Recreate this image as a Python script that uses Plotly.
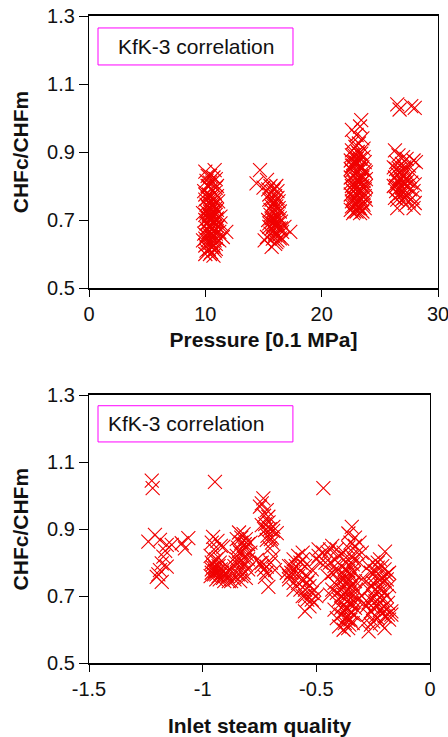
import plotly.graph_objects as go

# ---------------- data ----------------
# Top panel: pressure [0.1 MPa] vs CHFc/CHFm
p_cluster_10 = [(10.0,0.842),(10.8,0.847),(10.4,0.83),(10.9,0.82),(10.1,0.815),(10.6,0.81),(11.0,0.80),(10.2,0.80),
                (10.5,0.79),(9.9,0.785),(10.8,0.78),(10.3,0.775),(10.6,0.765),(10.0,0.76),(11.1,0.755),(10.4,0.75),
                (10.7,0.745),(10.2,0.74),(10.9,0.735),(10.5,0.73),(10.1,0.725),(10.8,0.72),(10.3,0.715),(10.6,0.71),
                (11.0,0.705),(10.0,0.70),(10.4,0.70),(10.7,0.695),(10.2,0.69),(10.9,0.685),(10.5,0.68),(10.1,0.675),
                (10.8,0.67),(10.3,0.665),(10.6,0.66),(11.2,0.665),(9.9,0.66),(10.4,0.655),(10.7,0.65),(11.0,0.645),
                (10.2,0.64),(10.5,0.635),(10.9,0.63),(10.0,0.625),(10.6,0.62),(10.3,0.615),(10.8,0.61),(10.4,0.60),
                (10.0,0.60),(10.7,0.595),(11.8,0.665),(11.5,0.65),(11.3,0.69),(10.5,0.715),(10.7,0.76),(10.3,0.80),
                (10.9,0.70),(10.1,0.655),(10.6,0.685),(10.4,0.725),
                (10.2,0.83),(10.7,0.825),(10.4,0.81),(10.9,0.795),(10.0,0.775),(10.5,0.77),(11.0,0.77),(10.2,0.765),
                (10.8,0.755),(10.1,0.745),(10.6,0.74),(11.0,0.73),(10.3,0.735),(10.7,0.725),(10.0,0.715),(10.9,0.715),
                (10.5,0.705),(10.2,0.705),(10.8,0.695),(10.1,0.69),(10.6,0.675),(11.1,0.68),(10.3,0.68),(10.9,0.66),
                (10.5,0.65),(10.0,0.645),(10.8,0.64),(10.3,0.63),(10.7,0.625),(11.2,0.64),(10.1,0.61),(10.5,0.605),
                (10.9,0.615),(9.8,0.72),(9.8,0.64),(11.3,0.71)]
p_cluster_16 = [(14.7,0.847),(14.4,0.808),(15.3,0.818),(15.0,0.795),(15.6,0.80),(15.9,0.79),(16.2,0.785),(15.5,0.775),
                (16.0,0.77),(15.7,0.76),(16.3,0.755),(15.8,0.745),(16.1,0.74),(15.6,0.73),(16.4,0.725),(15.9,0.72),
                (16.2,0.71),(15.7,0.705),(16.0,0.70),(16.5,0.695),(15.8,0.69),(16.1,0.685),(15.5,0.68),(16.3,0.675),
                (15.9,0.67),(16.6,0.665),(17.3,0.665),(16.4,0.646),(15.1,0.64),(15.7,0.621),(16.0,0.655),(15.6,0.66),
                (16.2,0.64),(15.4,0.70),(16.8,0.68),(15.3,0.65),(16.0,0.63),(15.9,0.75),(16.2,0.765),(15.4,0.79),
                (15.8,0.785),(16.1,0.80),(15.5,0.76),(16.0,0.755),(15.7,0.74),(16.3,0.735),(15.9,0.73),(16.1,0.715),
                (15.6,0.715),(16.4,0.705),(15.8,0.70),(16.2,0.69),(15.9,0.685),(16.5,0.675),(15.7,0.675),(16.0,0.66),
                (16.3,0.655),(15.8,0.645),(16.1,0.635),(15.5,0.69),(16.6,0.645)]
p_cluster_23 = [(23.4,0.994),(23.3,0.975),(22.6,0.965),(23.0,0.95),(23.5,0.94),(22.7,0.93),(23.2,0.925),(22.9,0.915),
                (23.6,0.91),(22.6,0.905),(23.1,0.90),(23.4,0.895),(22.8,0.89),(23.3,0.88),(22.5,0.875),(23.7,0.87),
                (23.0,0.865),(22.7,0.86),(23.5,0.855),(23.2,0.85),(22.6,0.845),(23.8,0.84),(22.9,0.835),(23.4,0.83),
                (22.5,0.825),(23.1,0.82),(23.6,0.815),(22.8,0.81),(23.3,0.805),(22.6,0.80),(23.0,0.795),(23.7,0.79),
                (23.8,0.80),(22.7,0.785),(23.2,0.78),(22.5,0.775),(23.5,0.77),(22.9,0.765),(23.4,0.76),(22.6,0.755),
                (23.1,0.75),(23.6,0.745),(22.8,0.74),(23.3,0.735),(22.5,0.73),(23.0,0.725),(22.7,0.72),(23.5,0.725),
                (23.2,0.74),(22.9,0.78),(23.4,0.85),(23.0,0.88),(23.6,0.78),(22.8,0.87),
                (22.6,0.89),(23.2,0.895),(23.6,0.885),(22.9,0.87),(23.3,0.86),(22.6,0.86),(23.7,0.845),(23.0,0.84),
                (22.7,0.83),(23.5,0.825),(23.2,0.815),(22.9,0.80),(23.5,0.80),(22.6,0.79),(23.3,0.79),(23.0,0.775),
                (23.7,0.77),(22.7,0.765),(23.3,0.765),(22.9,0.75),(23.5,0.75),(22.6,0.74),(23.1,0.735),(23.7,0.735),
                (22.8,0.725),(23.3,0.72),(23.8,0.76),(22.5,0.81),(23.8,0.82),(22.5,0.85)]
p_cluster_27 = [(26.5,1.04),(26.7,1.025),(27.7,1.035),(28.0,1.03),(26.3,0.905),(26.6,0.89),(27.0,0.885),(27.3,0.88),
                (27.9,0.875),(28.1,0.87),(26.4,0.87),(26.9,0.865),(27.5,0.86),(26.2,0.855),(26.7,0.85),(27.2,0.845),
                (27.8,0.84),(26.5,0.835),(27.0,0.83),(26.3,0.825),(26.8,0.82),(27.4,0.815),(26.6,0.81),(27.1,0.805),
                (26.2,0.80),(26.9,0.795),(27.6,0.79),(26.4,0.785),(27.0,0.78),(27.9,0.785),(26.6,0.775),(27.3,0.77),
                (27.8,0.765),(26.3,0.765),(26.9,0.76),(27.5,0.755),(28.0,0.75),(26.5,0.735),(27.9,0.735),(27.2,0.745),
                (26.4,0.85),(26.8,0.84),(27.1,0.855),(26.5,0.815),(27.0,0.81),(26.7,0.795),(27.3,0.80),(26.4,0.80),
                (26.8,0.78),(27.1,0.765),(26.5,0.76),(27.7,0.81),(27.5,0.83),(28.0,0.805),(27.2,0.82)]

# Bottom panel: inlet steam quality vs CHFc/CHFm
q_group_1 = [(-1.224,1.045),(-1.22,1.022),(-1.239,0.863),(-1.21,0.883),(-1.188,0.868),(-1.158,0.853),(-1.136,0.853),
             (-1.173,0.818),(-1.18,0.798),(-1.188,0.778),(-1.202,0.758),(-1.18,0.743),(-1.158,0.788),(-1.092,0.858),
             (-1.063,0.873),(-1.078,0.843),(-1.165,0.835),(-1.195,0.765)]
q_group_2 = [(-0.946,1.041),(-0.954,0.877),(-0.96,0.86),(-0.935,0.865),(-0.95,0.84),(-0.92,0.85),(-0.909,0.848),
             (-0.965,0.82),(-0.94,0.81),(-0.955,0.795),(-0.93,0.79),(-0.96,0.78),(-0.945,0.775),(-0.92,0.78),
             (-0.95,0.765),(-0.93,0.76),(-0.9,0.77),(-0.94,0.75),(-0.91,0.755),(-0.885,0.745),(-0.96,0.77),
             (-0.925,0.80),(-0.895,0.79),(-0.87,0.765),(-0.86,0.75),(-0.88,0.78),
             (-0.955,0.785),(-0.935,0.775),(-0.915,0.77),(-0.965,0.76),(-0.94,0.765),(-0.925,0.75),(-0.905,0.745),
             (-0.945,0.785),(-0.96,0.80),(-0.93,0.815),(-0.89,0.76),(-0.875,0.745)]
q_group_3 = [(-0.84,0.89),(-0.82,0.885),(-0.85,0.87),(-0.81,0.87),(-0.83,0.86),(-0.8,0.855),(-0.845,0.845),
             (-0.815,0.84),(-0.835,0.83),(-0.79,0.83),(-0.85,0.82),(-0.82,0.815),(-0.8,0.81),(-0.84,0.80),
             (-0.81,0.795),(-0.83,0.785),(-0.86,0.79),(-0.8,0.78),(-0.82,0.77),(-0.845,0.765),(-0.81,0.755),
             (-0.835,0.745),(-0.85,0.81),(-0.79,0.86),
             (-0.83,0.875),(-0.815,0.855),(-0.84,0.835),(-0.825,0.80),(-0.805,0.825),(-0.855,0.80),(-0.83,0.76)]
q_group_4 = [(-0.733,0.992),(-0.74,0.977),(-0.718,0.957),(-0.748,0.967),(-0.711,0.937),(-0.74,0.912),(-0.689,0.907),
             (-0.726,0.897),(-0.674,0.888),(-0.718,0.868),(-0.704,0.843),(-0.748,0.798),(-0.718,0.788),(-0.762,0.808),
             (-0.726,0.758),(-0.711,0.728),(-0.689,0.818),(-0.682,0.778),(-0.70,0.87),(-0.69,0.895),(-0.72,0.90),
             (-0.71,0.92),(-0.73,0.94),(-0.695,0.86),(-0.74,0.79),(-0.70,0.80),
             (-0.725,0.915),(-0.705,0.90),(-0.715,0.88),(-0.695,0.875),(-0.74,0.80),(-0.73,0.78),(-0.72,0.77)]
q_group_5 = [(-0.63,0.77),(-0.61,0.79),(-0.6,0.81),(-0.58,0.82),(-0.59,0.775),(-0.62,0.75),(-0.6,0.74),(-0.57,0.80),
             (-0.56,0.83),(-0.55,0.79),(-0.58,0.76),(-0.56,0.745),(-0.54,0.76),(-0.57,0.72),(-0.55,0.72),(-0.53,0.73),
             (-0.52,0.71),(-0.54,0.69),(-0.56,0.70),(-0.5,0.70),(-0.53,0.67),(-0.55,0.655),(-0.51,0.68),(-0.6,0.72),
             (-0.62,0.79),(-0.52,0.78),(-0.5,0.81),(-0.49,0.84),(-0.47,0.83),(-0.48,0.80),(-0.469,1.022),
             (-0.61,0.77),(-0.59,0.79),(-0.57,0.775),(-0.54,0.74),(-0.58,0.74),(-0.55,0.70),(-0.52,0.69),(-0.53,0.75),
             (-0.51,0.72),(-0.49,0.82),(-0.56,0.81),(-0.62,0.76)]
q_group_6 = [(-0.344,0.907),(-0.359,0.887),(-0.33,0.875),(-0.45,0.83),(-0.43,0.85),(-0.41,0.84),(-0.44,0.80),
             (-0.42,0.81),(-0.40,0.82),(-0.38,0.83),(-0.36,0.845),(-0.35,0.86),(-0.33,0.85),(-0.37,0.815),
             (-0.345,0.82),(-0.32,0.83),(-0.39,0.79),(-0.365,0.80),(-0.34,0.795),(-0.31,0.80),(-0.43,0.77),
             (-0.41,0.775),(-0.385,0.765),(-0.36,0.775),(-0.335,0.77),(-0.42,0.74),(-0.40,0.745),(-0.375,0.74),
             (-0.355,0.75),(-0.33,0.745),(-0.39,0.72),(-0.37,0.715),(-0.35,0.725),(-0.325,0.72),(-0.44,0.705),
             (-0.40,0.69),(-0.38,0.695),(-0.36,0.70),(-0.34,0.69),(-0.385,0.67),(-0.37,0.665),(-0.35,0.675),
             (-0.33,0.665),(-0.39,0.645),(-0.365,0.64),(-0.345,0.65),(-0.375,0.62),(-0.355,0.615),(-0.38,0.60),
             (-0.36,0.605),(-0.34,0.62),(-0.42,0.66),(-0.41,0.635),(-0.32,0.69),(-0.30,0.75),(-0.30,0.83),
             (-0.31,0.86),(-0.43,0.72),(-0.40,0.61),(-0.36,0.63),
             (-0.375,0.78),(-0.355,0.79),(-0.335,0.81),(-0.37,0.76),(-0.35,0.765),(-0.38,0.75),(-0.36,0.74),
             (-0.34,0.735),(-0.375,0.73),(-0.355,0.71),(-0.335,0.705),(-0.38,0.705),(-0.365,0.685),(-0.345,0.68),
             (-0.375,0.655),(-0.355,0.66),(-0.335,0.645),(-0.37,0.635),(-0.35,0.63),(-0.39,0.665),(-0.39,0.70),
             (-0.41,0.71),(-0.42,0.79),(-0.45,0.76),(-0.46,0.80),(-0.44,0.84)]
q_group_7 = [(-0.198,0.833),(-0.22,0.81),(-0.25,0.80),(-0.27,0.79),(-0.23,0.785),(-0.2,0.78),(-0.18,0.77),
             (-0.26,0.77),(-0.24,0.76),(-0.21,0.755),(-0.19,0.75),(-0.28,0.745),(-0.25,0.74),(-0.22,0.735),
             (-0.18,0.73),(-0.27,0.72),(-0.23,0.715),(-0.2,0.71),(-0.26,0.69),(-0.24,0.685),(-0.21,0.69),
             (-0.185,0.68),(-0.28,0.67),(-0.25,0.665),(-0.22,0.66),(-0.19,0.66),(-0.17,0.655),(-0.27,0.645),
             (-0.24,0.64),(-0.2,0.64),(-0.18,0.63),(-0.29,0.62),(-0.26,0.615),(-0.22,0.62),(-0.27,0.595),
             (-0.2,0.605),(-0.17,0.645),(-0.3,0.70),(-0.29,0.68),
             (-0.23,0.80),(-0.21,0.79),(-0.24,0.775),(-0.19,0.765),(-0.22,0.75),(-0.2,0.745),(-0.26,0.73),
             (-0.24,0.72),(-0.21,0.72),(-0.25,0.70),(-0.22,0.695),(-0.19,0.70),(-0.27,0.68),(-0.23,0.67),
             (-0.2,0.67),(-0.26,0.655),(-0.21,0.65),(-0.23,0.635),(-0.185,0.645),(-0.25,0.625)]

x_ticks_top = [0, 10, 20, 30]
x_ticks_bottom = [-1.5, -1, -0.5, 0]
x_ticktext_bottom = ["-1.5", "-1", "-0.5", "0"]
y_ticks = [0.5, 0.7, 0.9, 1.1, 1.3]
y_ticktext = ["0.5", "0.7", "0.9", "1.1", "1.3"]
legend_label = "KfK-3 correlation"

# ---------------- build ----------------
top_pts = p_cluster_10 + p_cluster_16 + p_cluster_23 + p_cluster_27
bot_pts = q_group_1 + q_group_2 + q_group_3 + q_group_4 + q_group_5 + q_group_6 + q_group_7

FONT = "Liberation Sans, Arial, sans-serif"
RED = "#f00000"
marker = dict(symbol="x-thin", size=14, color=RED, opacity=1, line=dict(color=RED, width=1.1))

fig = go.Figure()
fig.add_trace(go.Scatter(x=[p[0] for p in top_pts], y=[p[1] for p in top_pts], mode="markers",
                         marker=marker, xaxis="x", yaxis="y", showlegend=False))
fig.add_trace(go.Scatter(x=[p[0] for p in bot_pts], y=[p[1] for p in bot_pts], mode="markers",
                         marker=marker, xaxis="x2", yaxis="y2", showlegend=False))

W, H = 448, 737
dx_top = [89 / W, 438 / W]
dy_top = [1 - 288 / H, 1 - 16 / H]
dx_bot = [89 / W, 430 / W]
dy_bot = [1 - 663.3 / H, 1 - 395 / H]

tickfont = dict(family=FONT, size=20, color="#111")
titlefont = dict(family=FONT, size=21, color="#111", weight="bold")

def xax(domain, anchor, rng, tv, tt, title, standoff):
    return dict(domain=domain, anchor=anchor, range=rng, tickmode="array", tickvals=tv, ticktext=tt,
                ticks="outside", ticklen=7, tickwidth=1.3, tickcolor="black", showgrid=False, zeroline=False,
                showline=True, linecolor="black", linewidth=1.6, mirror=True, tickfont=tickfont,
                ticklabeloverflow="allow", automargin=False,
                title=dict(text=title, font=titlefont, standoff=standoff))

def yax(domain, anchor, rng, title):
    return dict(domain=domain, anchor=anchor, range=rng, tickmode="array", tickvals=y_ticks, ticktext=y_ticktext,
                ticks="outside", ticklen=9, tickwidth=1.3, tickcolor="black", showgrid=False, zeroline=False,
                showline=True, linecolor="black", linewidth=1.3, mirror=True, tickfont=tickfont,
                ticklabeloverflow="allow", automargin=False,
                title=dict(text=title, font=titlefont, standoff=12))

def inner_x(over, anchor, rng, tv):
    return dict(overlaying=over, anchor=anchor, range=rng, tickmode="array", tickvals=tv, ticks="inside",
                ticklen=8, tickwidth=1.3, tickcolor="black", showticklabels=False, showgrid=False,
                zeroline=False, showline=False, side="bottom", automargin=False)

def inner_y(over, anchor, rng):
    return dict(overlaying=over, anchor=anchor, range=rng, tickmode="array", tickvals=y_ticks, ticks="inside",
                ticklen=8, tickwidth=1.3, tickcolor="black", showticklabels=False, showgrid=False,
                zeroline=False, showline=False, side="left", automargin=False)

fig.update_layout(
    template="none",
    width=W, height=H, margin=dict(l=0, r=0, t=0, b=0, pad=0, autoexpand=False),
    paper_bgcolor="white", plot_bgcolor="white",
    font=dict(family=FONT, color="#111"),
    xaxis=xax(dx_top, "y", [0, 30], x_ticks_top, [str(v) for v in x_ticks_top], "Pressure [0.1 MPa]", 9),
    yaxis=yax(dy_top, "x", [0.5, 1.3], "CHFc/CHFm"),
    xaxis2=xax(dx_bot, "y2", [-1.5, 0], x_ticks_bottom, x_ticktext_bottom, "Inlet steam quality", 25),
    yaxis2=yax(dy_bot, "x2", [0.5, 1.3], "CHFc/CHFm"),
    xaxis3=inner_x("x", "y", [0, 30], x_ticks_top),
    yaxis3=inner_y("y", "x", [0.5, 1.3]),
    xaxis4=inner_x("x2", "y2", [-1.5, 0], x_ticks_bottom),
    yaxis4=inner_y("y2", "x2", [0.5, 1.3]),
    shapes=[
        dict(type="rect", xref="x domain", yref="y domain", x0=0.0258, x1=0.5845, y0=0.820, y1=0.956,
             line=dict(color="#ff00ff", width=1), fillcolor="white", layer="above"),
        dict(type="rect", xref="x2 domain", yref="y2 domain", x0=0.0264, x1=0.598, y0=0.825, y1=0.960,
             line=dict(color="#ff00ff", width=1), fillcolor="white", layer="above"),
    ],
    annotations=[
        dict(text=legend_label, xref="x domain", yref="y domain", x=0.3066, y=0.888, xanchor="center",
             yanchor="middle", showarrow=False, font=dict(family=FONT, size=21, color="#111")),
        dict(text=legend_label, xref="x2 domain", yref="y2 domain", x=0.0499, y=0.8945, xanchor="left",
             yanchor="middle", showarrow=False, font=dict(family=FONT, size=21, color="#111")),
    ],
)

# remove the browser's default 8px body margin so the 448x737 figure fills the window
fig.write_html("out.html", config={"displayModeBar": False},
               post_script="document.body.style.margin='0';document.body.style.overflow='hidden';")
